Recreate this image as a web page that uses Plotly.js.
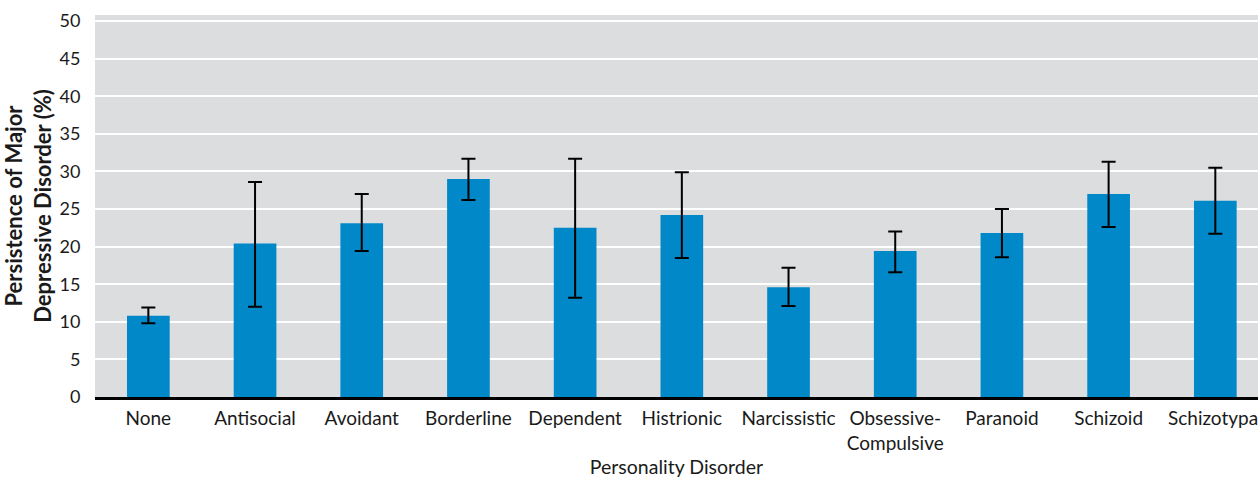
<!DOCTYPE html>
<html>
<head>
<meta charset="utf-8">
<script src="https://cdn.plot.ly/plotly-3.0.1.min.js"></script>
<style>html,body{margin:0;padding:0;background:#fff;}#chart{width:1258px;height:478px;}</style>
</head>
<body>
<div id="chart"></div>
<script>
const categories = ["None","Antisocial","Avoidant","Borderline","Dependent","Histrionic","Narcissistic","Obsessive-<br>Compulsive","Paranoid","Schizoid","Schizotypal"];
const persistence = [10.8, 20.4, 23.1, 29.0, 22.5, 24.2, 14.6, 19.4, 21.8, 27.0, 26.1];
const ciUpper = [11.9, 28.6, 27.0, 31.7, 31.7, 29.9, 17.2, 22.0, 25.0, 31.3, 30.5];
const ciLower = [9.8, 12.0, 19.4, 26.2, 13.2, 18.5, 12.1, 16.6, 18.6, 22.6, 21.7];
const yTicks = [0,5,10,15,20,25,30,35,40,45,50];

const errPlus = persistence.map((v,i)=>+(ciUpper[i]-v).toFixed(2));
const errMinus = persistence.map((v,i)=>+(v-ciLower[i]).toFixed(2));

const font = "Lato, 'Open Sans', sans-serif";

Plotly.newPlot('chart', [{
  type: 'bar',
  x: categories,
  y: persistence,
  width: 0.4,
  marker: {color: '#0088c9'},
  error_y: {type: 'data', symmetric: false, array: errPlus, arrayminus: errMinus, color: '#000', thickness: 2, width: 7},
  hoverinfo: 'none'
}], {
  width: 1258, height: 478,
  margin: {l: 95, r: 0, t: 15, b: 81, pad: 0},
  paper_bgcolor: '#ffffff',
  plot_bgcolor: '#dcdddf',
  showlegend: false,
  font: {family: font, size: 18, color: '#1a1a1a'},
  xaxis: {
    type: 'category',
    range: [-0.5, 10.4],
    showgrid: false,
    showline: true, linecolor: '#000', linewidth: 3,
    ticks: 'outside', ticklen: 2, tickcolor: 'rgba(0,0,0,0)',
    tickfont: {family: font, size: 19, color: '#1a1a1a'},
    title: {text: 'Personality Disorder', font: {family: font, size: 19.5, color: '#1a1a1a'}, standoff: 10}
  },
  yaxis: {
    range: [0, 50.8],
    tickvals: yTicks,
    ticktext: yTicks.map(String),
    showgrid: true, gridcolor: '#ffffff', gridwidth: 2,
    zeroline: false,
    ticks: 'outside', ticklen: 10, tickcolor: 'rgba(0,0,0,0)',
    tickfont: {family: font, size: 18, color: '#1a1a1a'},
    title: {text: '<b>Persistence of Major<br>Depressive Disorder (%)</b>', font: {family: font, size: 22, color: '#1a1a1a'}, standoff: 6}
  }
}, {staticPlot: true, displayModeBar: false});
</script>
</body>
</html>
